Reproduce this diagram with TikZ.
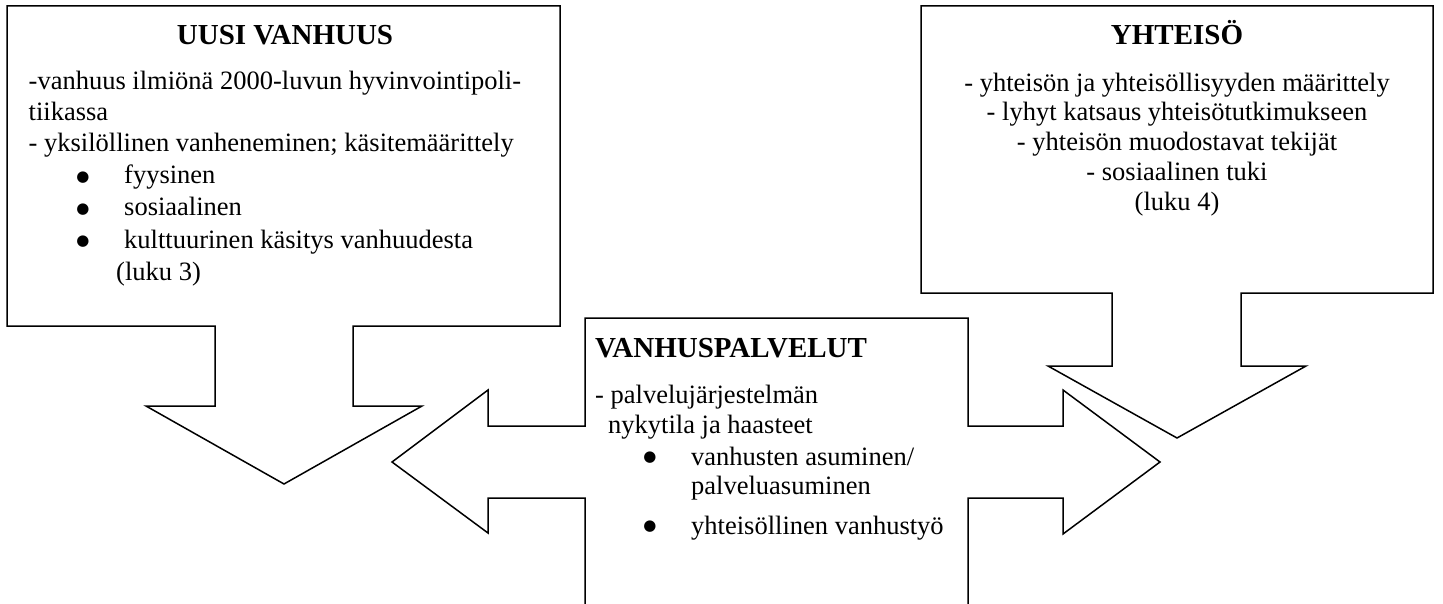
\documentclass[tikz,border=0pt]{standalone}
\usepackage{fontspec}
\setmainfont{Liberation Serif}
\newfontfamily\bulletfont{DejaVu Sans}
\begin{document}
\begin{tikzpicture}[x=1pt,y=-1pt]
\tikzset{
  outline/.style={draw=black, line width=1.5pt, line join=miter, fill=white},
  ttl/.style={font=\fontsize{29}{33}\selectfont\bfseries, inner sep=0pt},
  txt/.style={font=\fontsize{26.5}{31}\selectfont, inner sep=0pt, anchor=base west},
  txtc/.style={font=\fontsize{26.5}{31}\selectfont, inner sep=0pt, anchor=base},
  bul/.style={font=\bulletfont\fontsize{15}{15}\selectfont, inner sep=0pt, anchor=center},
}
\useasboundingbox (0,0) rectangle (1443,604);
% shapes
\draw[outline] (7,6) -- (560,6) -- (560,326) -- (353,326) -- (353,406) -- (422,406)
  -- (284,484) -- (146,406) -- (215,406) -- (215,326) -- (7,326) -- cycle;
\draw[outline] (921,6) -- (1433,6) -- (1433,293) -- (1241,293) -- (1241,366) -- (1306,366)
  -- (1177,438) -- (1048,366) -- (1112,366) -- (1112,293) -- (921,293) -- cycle;
\fill[white] (585,604) -- (585,498) -- (488,498) -- (488,533) -- (392,462) -- (488,390)
  -- (488,426) -- (585,426) -- (585,318) -- (968,318) -- (968,426) -- (1063,426)
  -- (1063,390) -- (1160,462) -- (1063,534) -- (1063,498) -- (968,498) -- (968,604) -- cycle;
\draw[outline, fill=none] (585,604) -- (585,498) -- (488,498) -- (488,533) -- (392,462) -- (488,390)
  -- (488,426) -- (585,426) -- (585,318) -- (968,318) -- (968,426) -- (1063,426)
  -- (1063,390) -- (1160,462) -- (1063,534) -- (1063,498) -- (968,498) -- (968,604);
% left box text
\node[ttl, anchor=base] (t1) at (285,45) {UUSI VANHUUS};
\node[txt] (l1) at (28.5,90) {-vanhuus ilmiönä 2000-luvun hyvinvointipoli-};
\node[txt] (l2) at (28.5,121) {tiikassa};
\node[txt] (l3) at (28.5,152) {- yksilöllinen vanheneminen; käsitemäärittely};
\node[bul] (b1) at (83,177.5) {●};
\node[txt] (l4) at (124,184) {fyysinen};
\node[bul] (b2) at (83,209.5) {●};
\node[txt] (l5) at (124,216) {sosiaalinen};
\node[bul] (b3) at (83,241.5) {●};
\node[txt] (l6) at (124,248) {kulttuurinen käsitys vanhuudesta};
\node[txt] (l7) at (116,280) {(luku 3)};
% right box text
\node[ttl, anchor=base] (t2) at (1177,45) {YHTEISÖ};
\node[txtc] (r1) at (1177,91.5) {- yhteisön ja yhteisöllisyyden määrittely};
\node[txtc] (r2) at (1177,121) {- lyhyt katsaus yhteisötutkimukseen};
\node[txtc] (r3) at (1177,151) {- yhteisön muodostavat tekijät};
\node[txtc] (r4) at (1177,181) {- sosiaalinen tuki};
\node[txtc] (r5) at (1177,211) {(luku 4)};
% middle box text
\node[ttl, anchor=base west] (t3) at (595,357) {VANHUSPALVELUT};
\node[txt] (m1) at (595,403) {- palvelujärjestelmän};
\node[txt] (m2) at (608,433) {nykytila ja haasteet};
\node[bul] (b4) at (650,458) {●};
\node[txt] (m3) at (691,465) {vanhusten asuminen/};
\node[txt] (m4) at (691,494) {palveluasuminen};
\node[bul] (b5) at (650,527) {●};
\node[txt] (m5) at (691,534) {yhteisöllinen vanhustyö};
\end{tikzpicture}
\end{document}
